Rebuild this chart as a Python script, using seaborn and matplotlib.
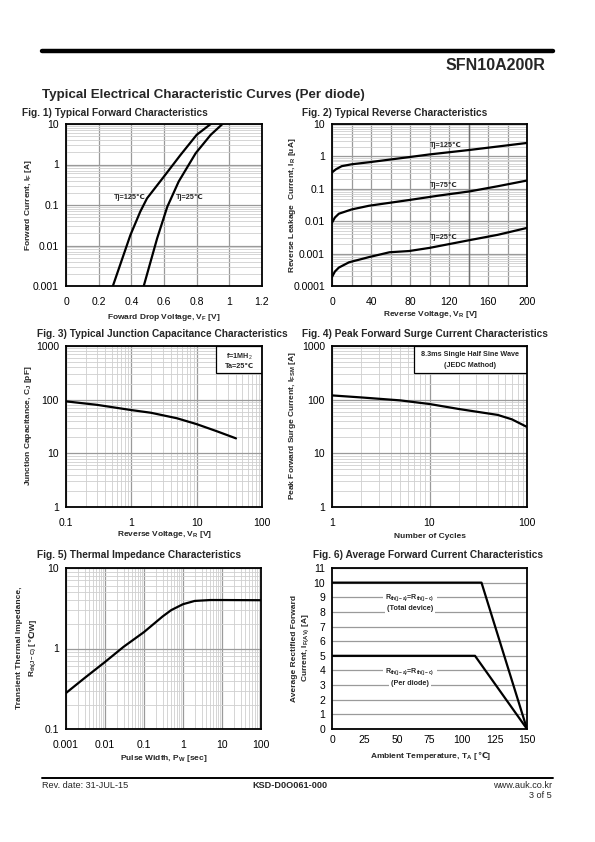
import matplotlib
matplotlib.use('Agg')
import matplotlib.pyplot as plt
import numpy as np
import pandas as pd
import seaborn as sns
from matplotlib.patches import Rectangle
from matplotlib.lines import Line2D
from matplotlib.ticker import FixedLocator, NullFormatter

# ---------------- data ----------------
# Fig 1 forward characteristics
fwd_v_125 = [0.287, 0.394, 0.455, 0.496, 0.599, 0.70, 0.80, 0.886]
fwd_i_125 = [0.001, 0.018, 0.069, 0.146, 0.5, 1.7, 5.4, 10]
fwd_v_25 = [0.476, 0.558, 0.62, 0.69, 0.794, 0.886, 0.958]
fwd_i_25 = [0.001, 0.015, 0.09, 0.38, 1.9, 5.4, 10]
fig1_xticks = [0, 0.2, 0.4, 0.6, 0.8, 1.0, 1.2]
fig1_xlabels = ["0", "0.2", "0.4", "0.6", "0.8", "1", "1.2"]
fig1_yticks = [0.001, 0.01, 0.1, 1, 10]
fig1_ylabels = ["0.001", "0.01", "0.1", "1", "10"]

# Fig 2 reverse characteristics
rev_v_125 = [0, 4, 10, 20, 38, 79, 100, 141, 200]
rev_i_125 = [0.32, 0.4, 0.5, 0.57, 0.66, 0.95, 1.15, 1.58, 2.6]
rev_v_75 = [0, 3, 7, 20, 38, 79, 110, 141, 170, 200]
rev_i_75 = [0.009, 0.013, 0.017, 0.023, 0.03, 0.045, 0.062, 0.083, 0.12, 0.18]
rev_v_25 = [0, 3, 7, 17.5, 38, 59, 79, 100, 141, 170, 200]
rev_i_25 = [0.00019, 0.00028, 0.00037, 0.00054, 0.00078, 0.0011, 0.0012, 0.0015, 0.0026, 0.0038, 0.0062]
fig2_xticks = [0, 20, 40, 60, 80, 100, 120, 140, 160, 180, 200]
fig2_xlabels = ["0", "", "40", "", "80", "", "120", "", "160", "", "200"]
fig2_yticks = [0.0001, 0.001, 0.01, 0.1, 1, 10]
fig2_ylabels = ["0.0001", "0.001", "0.01", "0.1", "1", "10"]

# Fig 3 junction capacitance
cap_v = [0.1, 0.3, 1, 2, 5, 10, 20, 40]
cap_c = [93, 80, 64, 57, 45, 35, 26, 19]
fig3_xticks = [0.1, 1, 10, 100]
fig3_xlabels = ["0.1", "1", "10", "100"]
fig3_yticks = [1, 10, 100, 1000]
fig3_ylabels = ["1", "10", "100", "1000"]

# Fig 4 surge current
surge_n = [1, 2, 5, 10, 20, 50, 70, 100]
surge_i = [120, 110, 97, 83, 67, 52, 43, 31]
fig4_xticks = [1, 10, 100]
fig4_xlabels = ["1", "10", "100"]
fig4_yticks = [1, 10, 100, 1000]
fig4_ylabels = ["1", "10", "100", "1000"]

# Fig 5 thermal impedance
th_t = [0.001, 0.003, 0.01, 0.03, 0.1, 0.3, 0.5, 1, 2, 5, 10, 100]
th_z = [0.28, 0.43, 0.68, 1.05, 1.6, 2.5, 3.0, 3.55, 3.9, 4.0, 4.0, 3.98]
fig5_xticks = [0.001, 0.01, 0.1, 1, 10, 100]
fig5_xlabels = ["0.001", "0.01", "0.1", "1", "10", "100"]
fig5_yticks = [0.1, 1, 10]
fig5_ylabels = ["0.1", "1", "10"]

# Fig 6 average forward current derating
temp_total = [0, 115, 150]
cur_total = [10, 10, 0]
temp_diode = [0, 110, 150]
cur_diode = [5, 5, 0]
fig6_xticks = [0, 25, 50, 75, 100, 125, 150]
fig6_xlabels = ["0", "25", "50", "75", "100", "125", "150"]
fig6_yticks = list(range(0, 12))
fig6_ylabels = [str(v) for v in fig6_yticks]

# ---------------- style ----------------
sns.set_theme(style='white')
plt.rcParams['font.family'] = ['Liberation Sans', 'DejaVu Sans']
plt.rcParams['mathtext.fontset'] = 'custom'
plt.rcParams['mathtext.rm'] = 'Liberation Sans'
plt.rcParams['mathtext.it'] = 'Liberation Sans'
plt.rcParams['mathtext.bf'] = 'Liberation Sans:bold'
plt.rcParams['mathtext.default'] = 'rm'

W, H = 595, 842
fig = plt.figure(figsize=(W / 100, H / 100), dpi=100)
fig.patch.set_facecolor('white')
renderer = fig.canvas.get_renderer()

MAJ = '#9a9a9a'
MIN = '#cfcfcf'
TICK_FS = 7.5
LAB_FS = 6.0


def fx(px):
    return px / W


def fy(py):
    return 1 - py / H


def make_ax(x0, y0, x1, y1):
    ax = fig.add_axes([fx(x0), fy(y1), fx(x1) - fx(x0), fy(y0) - fy(y1)])
    ax.set_facecolor('white')
    for s in ax.spines.values():
        s.set_color('black')
        s.set_linewidth(1.3)
        s.set_zorder(5)
    return ax


def log_minor(lo, hi):
    vals = []
    d = lo
    while d < hi * 0.999:
        for m in range(2, 10):
            vals.append(d * m)
        d *= 10
    return vals


def style_ticks(ax, xticks, xlabels, yticks, ylabels, xpad=8, ypad=5):
    ax.xaxis.set_major_locator(FixedLocator(xticks))
    ax.set_xticklabels(xlabels)
    ax.yaxis.set_major_locator(FixedLocator(yticks))
    ax.set_yticklabels(ylabels)
    ax.tick_params(axis='both', which='both', length=0, labelsize=TICK_FS, colors='black')
    ax.tick_params(axis='x', pad=xpad)
    ax.tick_params(axis='y', pad=ypad)
    ax.set_xlabel('')
    ax.set_ylabel('')


def curve(ax, x, y):
    df = pd.DataFrame({'x': x, 'y': y})
    sns.lineplot(data=df, x='x', y='y', ax=ax, color='black', lw=1.6,
                 sort=False, estimator=None, zorder=4)


def grid_log_y(ax, lo, hi):
    ax.yaxis.set_minor_locator(FixedLocator(log_minor(lo, hi)))
    ax.yaxis.set_minor_formatter(NullFormatter())
    ax.grid(True, axis='y', which='minor', color=MIN, lw=0.6, zorder=0)
    ax.grid(True, axis='y', which='major', color=MAJ, lw=0.9, zorder=0)


def grid_log_x(ax, lo, hi):
    ax.xaxis.set_minor_locator(FixedLocator(log_minor(lo, hi)))
    ax.xaxis.set_minor_formatter(NullFormatter())
    ax.grid(True, axis='x', which='minor', color=MIN, lw=0.6, zorder=0)
    ax.grid(True, axis='x', which='major', color=MAJ, lw=0.9, zorder=0)


def two_part_h(cx_px, cy_px, s1, s2, fs):
    """Horizontal label made of a mathtext part and a plain part (for the \u2103 glyph)."""
    t1 = fig.text(0, 0, s1, ha='left', va='baseline', fontsize=fs, fontweight='bold')
    t2 = fig.text(0, 0, s2, ha='left', va='baseline', fontsize=fs, fontweight='bold')
    w1 = t1.get_window_extent(renderer).width
    w2 = t2.get_window_extent(renderer).width
    x0 = cx_px - (w1 + w2) / 2
    yb = cy_px + fs * 1.389 * 0.35
    t1.set_position((fx(x0), fy(yb)))
    t2.set_position((fx(x0 + w1), fy(yb)))


def two_part_v(cx_px, cy_px, s1, s2, fs):
    """Vertical (rotated 90) label made of a mathtext part and a plain part."""
    kw = dict(ha='left', va='baseline', rotation=90, rotation_mode='anchor', fontsize=fs, fontweight='bold')
    t1 = fig.text(0, 0, s1, **kw)
    t2 = fig.text(0, 0, s2, **kw)
    h1 = t1.get_window_extent(renderer).height
    h2 = t2.get_window_extent(renderer).height
    y0 = cy_px + (h1 + h2) / 2  # bottom in pixel-from-top coords
    xb = cx_px + fs * 1.389 * 0.35
    t1.set_position((fx(xb), fy(y0)))
    t2.set_position((fx(xb), fy(y0 - h1)))


TFS = 7.3  # figure title font size
BOLD = dict(fontweight='bold')

# ---------------- header / footer ----------------
fig.add_artist(Line2D([fx(42), fx(553)], [fy(50.5), fy(50.5)], color='black', lw=3.2))
fig.text(fx(545), fy(66), 'SFN10A200R', ha='right', va='center', fontsize=11.5, fontweight='bold')
fig.text(fx(42), fy(95), 'Typical Electrical Characteristic Curves (Per diode)', ha='left', va='center',
         fontsize=9.6, fontweight='bold')
fig.add_artist(Line2D([fx(42), fx(553)], [fy(777.5), fy(777.5)], color='black', lw=1.4))
fig.text(fx(42), fy(785), 'Rev. date: 31-JUL-15', ha='left', va='center', fontsize=6.6)
fig.text(fx(290), fy(785), 'KSD-D0O061-000', ha='center', va='center', fontsize=6.6, fontweight='bold')
fig.text(fx(552), fy(785), 'www.auk.co.kr', ha='right', va='center', fontsize=6.6)
fig.text(fx(552), fy(796), '3 of 5', ha='right', va='center', fontsize=6.6)

# ---------------- Fig 1 ----------------
ax1 = make_ax(66, 124, 262, 286)
curve(ax1, fwd_v_125, fwd_i_125)
curve(ax1, fwd_v_25, fwd_i_25)
ax1.set_xlim(0, 1.2)
ax1.set_yscale('log')
ax1.set_ylim(0.001, 10)
style_ticks(ax1, fig1_xticks, fig1_xlabels, fig1_yticks, fig1_ylabels)
grid_log_y(ax1, 0.001, 10)
ax1.grid(True, axis='x', which='major', color=MAJ, lw=0.9, zorder=0)
ax1.text(0.49, 0.15, 'Tj=125\u2103', ha='right', va='center', fontsize=5.2, fontweight='bold', zorder=6)
ax1.text(0.675, 0.15, 'Tj=25\u2103', ha='left', va='center', fontsize=5.2, fontweight='bold', zorder=6)
fig.text(fx(22), fy(113), 'Fig. 1) Typical Forward Characteristics', ha='left', va='center', fontsize=TFS, **BOLD)
fig.text(fx(164), fy(318), 'Foward Drop Voltage, V$_\\mathbf{F}$ [V]', ha='center', va='center', fontsize=LAB_FS, **BOLD)
fig.text(fx(28), fy(205), 'Forward Current, I$_\\mathbf{F}$ [A]', ha='center', va='center', rotation=90,
         fontsize=LAB_FS, **BOLD)

# ---------------- Fig 2 ----------------
ax2 = make_ax(332, 124, 527, 286)
curve(ax2, rev_v_125, rev_i_125)
curve(ax2, rev_v_75, rev_i_75)
curve(ax2, rev_v_25, rev_i_25)
ax2.set_xlim(0, 200)
ax2.set_yscale('log')
ax2.set_ylim(0.0001, 10)
style_ticks(ax2, fig2_xticks, fig2_xlabels, fig2_yticks, fig2_ylabels)
grid_log_y(ax2, 0.0001, 10)
ax2.grid(True, axis='x', which='major', color=MAJ, lw=0.9, zorder=0)
ax2.axvline(140, color='#707070', lw=1.0, zorder=1)
ax2.text(100, 2.2, 'Tj=125\u2103', ha='left', va='center', fontsize=5.2, fontweight='bold', zorder=6)
ax2.text(100, 0.13, 'Tj=75\u2103', ha='left', va='center', fontsize=5.2, fontweight='bold', zorder=6)
ax2.text(100, 0.0031, 'Tj=25\u2103', ha='left', va='center', fontsize=5.2, fontweight='bold', zorder=6)
fig.text(fx(302), fy(113), 'Fig. 2) Typical Reverse Characteristics', ha='left', va='center', fontsize=TFS, **BOLD)
fig.text(fx(430), fy(315), 'Reverse Voltage, V$_\\mathbf{R}$ [V]', ha='center', va='center', fontsize=LAB_FS, **BOLD)
fig.text(fx(292), fy(205), 'Reverse Leakage  Current, I$_\\mathbf{R}$ [uA]', ha='center', va='center', rotation=90,
         fontsize=LAB_FS, **BOLD)

# ---------------- Fig 3 ----------------
ax3 = make_ax(66, 346, 262, 507)
curve(ax3, cap_v, cap_c)
ax3.set_xscale('log')
ax3.set_yscale('log')
ax3.set_xlim(0.1, 100)
ax3.set_ylim(1, 1000)
style_ticks(ax3, fig3_xticks, fig3_xlabels, fig3_yticks, fig3_ylabels)
grid_log_y(ax3, 1, 1000)
grid_log_x(ax3, 0.1, 100)
ax3.add_patch(Rectangle((0.765, 0.83), 0.235, 0.17, transform=ax3.transAxes, facecolor='white',
                        edgecolor='black', lw=0.9, zorder=3))
ax3.text(0.883, 0.935, 'f=1MH$_2$', transform=ax3.transAxes, ha='center', va='center', fontsize=5.2,
         fontweight='bold', zorder=6)
ax3.text(0.883, 0.87, 'Ta=25\u2103', transform=ax3.transAxes, ha='center', va='center', fontsize=5.2,
         fontweight='bold', zorder=6)
fig.text(fx(37), fy(334), 'Fig. 3) Typical Junction Capacitance Characteristics', ha='left', va='center',
         fontsize=TFS, **BOLD)
fig.text(fx(164), fy(535), 'Reverse Voltage, V$_\\mathbf{R}$ [V]', ha='center', va='center', fontsize=LAB_FS, **BOLD)
fig.text(fx(28), fy(426), 'Junction Capacitance, C$_\\mathbf{J}$ [pF]', ha='center', va='center', rotation=90,
         fontsize=LAB_FS, **BOLD)

# ---------------- Fig 4 ----------------
ax4 = make_ax(332, 346, 527, 507)
curve(ax4, surge_n, surge_i)
ax4.set_xscale('log')
ax4.set_yscale('log')
ax4.set_xlim(1, 100)
ax4.set_ylim(1, 1000)
style_ticks(ax4, fig4_xticks, fig4_xlabels, fig4_yticks, fig4_ylabels)
grid_log_y(ax4, 1, 1000)
grid_log_x(ax4, 1, 100)
ax4.add_patch(Rectangle((0.42, 0.83), 0.58, 0.17, transform=ax4.transAxes, facecolor='white',
                        edgecolor='black', lw=0.9, zorder=3))
ax4.text(0.71, 0.945, '8.3ms Single Half Sine Wave', transform=ax4.transAxes, ha='center', va='center',
         fontsize=5.2, fontweight='bold', zorder=6)
ax4.text(0.71, 0.88, '(JEDC Mathod)', transform=ax4.transAxes, ha='center', va='center',
         fontsize=5.2, fontweight='bold', zorder=6)
fig.text(fx(302), fy(334), 'Fig. 4) Peak Forward Surge Current Characteristics', ha='left', va='center',
         fontsize=TFS, **BOLD)
fig.text(fx(430), fy(537), 'Number of Cycles', ha='center', va='center', fontsize=LAB_FS, **BOLD)
fig.text(fx(292), fy(426), 'Peak Forward Surge Current, I$_\\mathbf{FSM}$ [A]', ha='center', va='center', rotation=90,
         fontsize=LAB_FS, **BOLD)

# ---------------- Fig 5 ----------------
ax5 = make_ax(66, 568, 261, 729)
curve(ax5, th_t, th_z)
ax5.set_xscale('log')
ax5.set_yscale('log')
ax5.set_xlim(0.001, 100)
ax5.set_ylim(0.1, 10)
style_ticks(ax5, fig5_xticks, fig5_xlabels, fig5_yticks, fig5_ylabels)
grid_log_y(ax5, 0.1, 10)
grid_log_x(ax5, 0.001, 100)
fig.text(fx(37), fy(555), 'Fig. 5) Thermal Impedance Characteristics', ha='left', va='center',
         fontsize=TFS, **BOLD)
fig.text(fx(164), fy(758), 'Pulse Width, P$_\\mathbf{W}$ [sec]', ha='center', va='center', fontsize=LAB_FS, **BOLD)
fig.text(fx(20), fy(648), 'Transient Thermal Impedance,', ha='center', va='center', rotation=90,
         fontsize=LAB_FS, **BOLD)
two_part_v(31, 648, 'R$_\\mathbf{th(J-C)}$ [', '\u2103/W]', LAB_FS)

# ---------------- Fig 6 ----------------
ax6 = make_ax(332, 568, 527, 729)
curve(ax6, temp_total, cur_total)
curve(ax6, temp_diode, cur_diode)
ax6.set_xlim(0, 150)
ax6.set_ylim(0, 11)
style_ticks(ax6, fig6_xticks, fig6_xlabels, fig6_yticks, fig6_ylabels, xpad=4.5)
ax6.grid(True, axis='y', which='major', color=MAJ, lw=0.9, zorder=0)
box = dict(facecolor='white', edgecolor='none', pad=1.5)
ax6.text(60, 9.0, 'R$_\\mathbf{th(j-a)}$=R$_\\mathbf{th(j-c)}$', ha='center', va='center', fontsize=5.0,
         fontweight='bold', bbox=box, zorder=6)
ax6.text(60, 8.2, '(Total device)', ha='center', va='center', fontsize=5.2, fontweight='bold', bbox=box, zorder=6)
ax6.text(60, 3.95, 'R$_\\mathbf{th(j-a)}$=R$_\\mathbf{th(j-c)}$', ha='center', va='center', fontsize=5.0,
         fontweight='bold', bbox=box, zorder=6)
ax6.text(60, 3.1, '(Per diode)', ha='center', va='center', fontsize=5.2, fontweight='bold', bbox=box, zorder=6)
fig.text(fx(313), fy(555), 'Fig. 6) Average Forward Current Characteristics', ha='left', va='center',
         fontsize=TFS, **BOLD)
two_part_h(430, 755, 'Ambient Temperature, T$_\\mathbf{A}$ [', '\u2103]', LAB_FS)
fig.text(fx(295), fy(648), 'Average Rectified Forward', ha='center', va='center', rotation=90,
         fontsize=LAB_FS, **BOLD)
fig.text(fx(306), fy(648), 'Current, I$_\\mathbf{F(AV)}$ [A]', ha='center', va='center', rotation=90,
         fontsize=LAB_FS, **BOLD)

fig.savefig('out.png', dpi=100, facecolor='white')
